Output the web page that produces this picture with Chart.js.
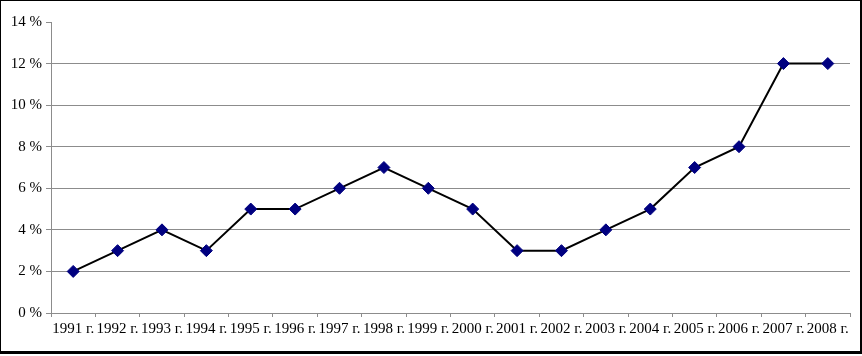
<!DOCTYPE html>
<html>
<head>
<meta charset="utf-8">
<script src="https://cdn.jsdelivr.net/npm/chart.js@4"></script>
<style>
  html, body { margin: 0; padding: 0; background: #fff; }
  #frame {
    position: absolute; left: 0; top: 0;
    width: 862px; height: 354px; box-sizing: border-box;
    border: 1px solid #000; border-right-width: 2px; border-bottom-width: 3px;
  }
  #chart { display: block; }
</style>
</head>
<body>
<div id="frame"><canvas id="chart" width="859" height="350"></canvas></div>
<script>
// данные
const years = ['1991 г.', '1992 г.', '1993 г.', '1994 г.', '1995 г.', '1996 г.', '1997 г.', '1998 г.', '1999 г.',
  '2000 г.', '2001 г.', '2002 г.', '2003 г.', '2004 г.', '2005 г.', '2006 г.', '2007 г.', '2008 г.'];
const values = [2, 3, 4, 3, 5, 5, 6, 7, 6, 5, 3, 3, 4, 5, 7, 8, 12, 12];
const yTicks = [0, 2, 4, 6, 8, 10, 12, 14];

const font = { family: "'Liberation Serif', 'Times New Roman', serif", size: 15 };
const gray = '#8c8c8c';

new Chart(document.getElementById('chart').getContext('2d'), {
  type: 'line',
  data: {
    labels: years,
    datasets: [{
      data: values,
      borderColor: '#000',
      borderWidth: 2,
      tension: 0,
      pointStyle: 'rectRot',
      pointRadius: 6,
      pointBackgroundColor: '#000080',
      pointBorderColor: '#000080',
      pointBorderWidth: 1
    }]
  },
  options: {
    responsive: false,
    animation: false,
    layout: { padding: { top: 21, right: 10, bottom: 0, left: 0 } },
    plugins: { legend: { display: false }, tooltip: { enabled: false } },
    scales: {
      x: {
        offset: true,
        grid: { offset: true, drawOnChartArea: false, tickLength: 4, tickColor: gray },
        border: { color: gray, width: 1 },
        ticks: { color: '#000', font: font, padding: 3, maxRotation: 0, autoSkip: false },
        afterFit: s => { s.height = 38; }
      },
      y: {
        min: 0, max: 14,
        afterBuildTicks: s => { s.ticks = yTicks.map(v => ({ value: v })); },
        grid: {
          color: c => (c.tick && (c.tick.value === 14 || c.tick.value === 0)) ? 'rgba(0,0,0,0)' : gray,
          tickColor: gray,
          tickLength: 5
        },
        border: { color: gray, width: 1 },
        ticks: { color: '#000', font: font, padding: 4, callback: v => v + ' %' },
        afterFit: s => { s.width = 50; }
      }
    }
  }
});
</script>
</body>
</html>
